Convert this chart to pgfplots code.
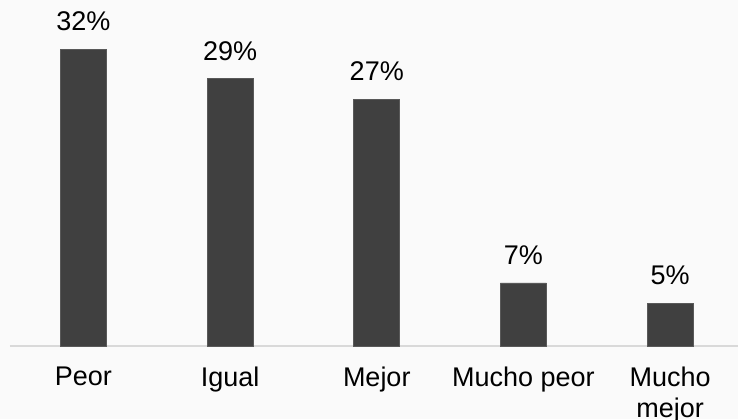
\documentclass[border=0pt]{standalone}
\usepackage{pgfplots}
\pgfplotsset{compat=1.18}
\usepackage{fontspec}
\setmainfont{Liberation Sans}
\definecolor{barfill}{HTML}{404040}
\definecolor{baredge}{HTML}{595959}
\definecolor{bg}{HTML}{FAFAFA}
\definecolor{axisline}{HTML}{D9D9D9}

\begin{document}
\begin{tikzpicture}
  % page = 738x419 px at 0.5pt per px, axis corner (xmin,ymin) at (0,0)
  \path[use as bounding box, fill=bg] (-5pt,-36.5pt) rectangle (364pt,173pt);
  \begin{axis}[
    anchor=south west, at={(0,0)},
    x=73.35pt, y=4.64pt,
    xmin=-0.5, xmax=4.46,
    ymin=0, ymax=37.2,
    axis x line*=bottom,
    axis y line=none,
    x axis line style={draw=axisline, line width=1pt},
    xtick={0,...,4},
    xticklabels={Peor,Igual,Mejor,Mucho peor,Mucho\\mejor},
    ytick=\empty,
    major tick length=0pt,
    xticklabel style={align=center, font=\fontsize{13.5}{15.2}\selectfont, text=black, yshift=-7pt},
    ybar, bar width=23pt,
    point meta=explicit symbolic,
    nodes near coords,
    nodes near coords style={font=\fontsize{13.5}{16}\selectfont, text=black, yshift=5.5pt},
    clip=false,
  ]
    \addplot[fill=barfill, draw=baredge, line width=0.4pt] coordinates {
      (0,32.0) [32\%]
      (1,28.8) [29\%]
      (2,26.6) [27\%]
      (3,6.8)  [7\%]
      (4,4.6)  [5\%]
    };
  \end{axis}
\end{tikzpicture}
\end{document}
